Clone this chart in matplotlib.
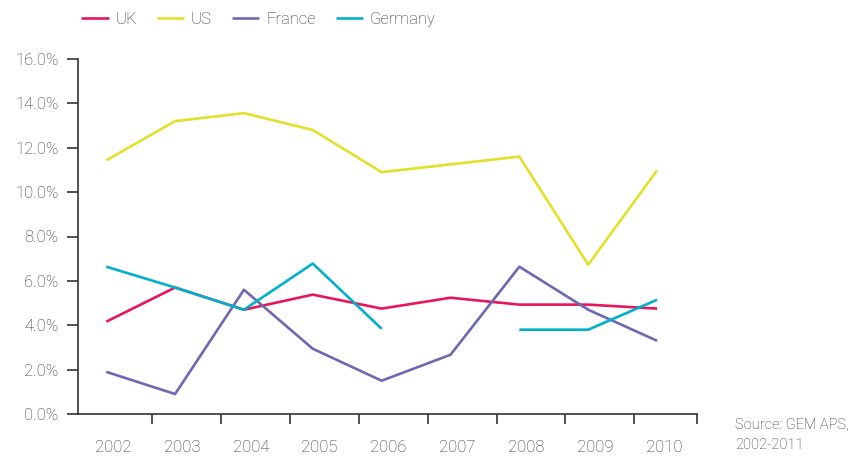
import matplotlib
matplotlib.use("Agg")
import matplotlib.pyplot as plt
import numpy as np

plt.rcParams['font.family'] = ['Roboto', 'DejaVu Sans']
plt.rcParams['font.weight'] = 'light'

years = ["2002", "2003", "2004", "2005", "2006", "2007", "2008", "2009", "2010"]
uk = [4.16, 5.70, 4.70, 5.38, 4.75, 5.24, 4.93, 4.93, 4.75]
us = [11.43, 13.20, 13.56, 12.80, 10.90, 11.25, 11.60, 6.73, 10.98]
france = [1.90, 0.90, 5.60, 2.94, 1.50, 2.67, 6.64, 4.70, 3.30]
germany = [6.64, 5.70, 4.70, 6.78, 3.84, np.nan, 3.80, 3.80, 5.15]
yticks = [0, 2, 4, 6, 8, 10, 12, 14, 16]

colors = {"UK": "#e8175d", "US": "#e3e02a", "France": "#6e68b2", "Germany": "#00b1c9"}
series = [("UK", uk), ("US", us), ("France", france), ("Germany", germany)]
txt = "#333333"

fig = plt.figure(figsize=(8.67, 4.58), dpi=100)
ax = fig.add_axes([78/867, (458-414)/458, (697-78)/867, (414-59)/458])

x = np.arange(len(years))
handles = []
for name, vals in series:
    h, = ax.plot(x, vals, color=colors[name], lw=1.9, label=name, solid_capstyle='butt')
    handles.append(h)

ax.set_ylim(0, 16)
ax.set_xlim(-0.41, 8.58)
ax.set_yticks(yticks)
ax.set_yticklabels([f"{v:.1f}%" for v in yticks])
ax.set_xticks(list(np.arange(0.67, 8.0, 1.0)) + [8.58])
ax.set_xticklabels([])
ax.set_xticks(x + 0.1, minor=True)
ax.set_xticklabels(years, minor=True)

for s in ["top", "right"]:
    ax.spines[s].set_visible(False)
for s in ["left", "bottom"]:
    ax.spines[s].set_color("#333333")
    ax.spines[s].set_linewidth(1.2)

ax.tick_params(axis='y', length=8, width=1.2, color="#333333", labelcolor=txt,
               labelsize=12, pad=6)
ax.tick_params(axis='x', which='major', length=7, width=1.2, color="#333333")
ax.tick_params(axis='x', which='minor', length=0, labelcolor=txt, labelsize=12, pad=19)

fig.legend(handles=handles, labels=[n for n, _ in series], loc='upper left',
           bbox_to_anchor=(66/867, 1.0 + 3/458), ncol=4, frameon=False, fontsize=12,
           handlelength=1.65, handletextpad=0.4, columnspacing=1.2,
           labelcolor=txt)

fig.text(735/867, 1 - 425/458, "Source: GEM APS,", fontsize=10.5, color=txt, va='center')
fig.text(735/867, 1 - 445/458, "2002-2011", fontsize=10.5, color=txt, va='center')

fig.savefig("out.png", dpi=100)
